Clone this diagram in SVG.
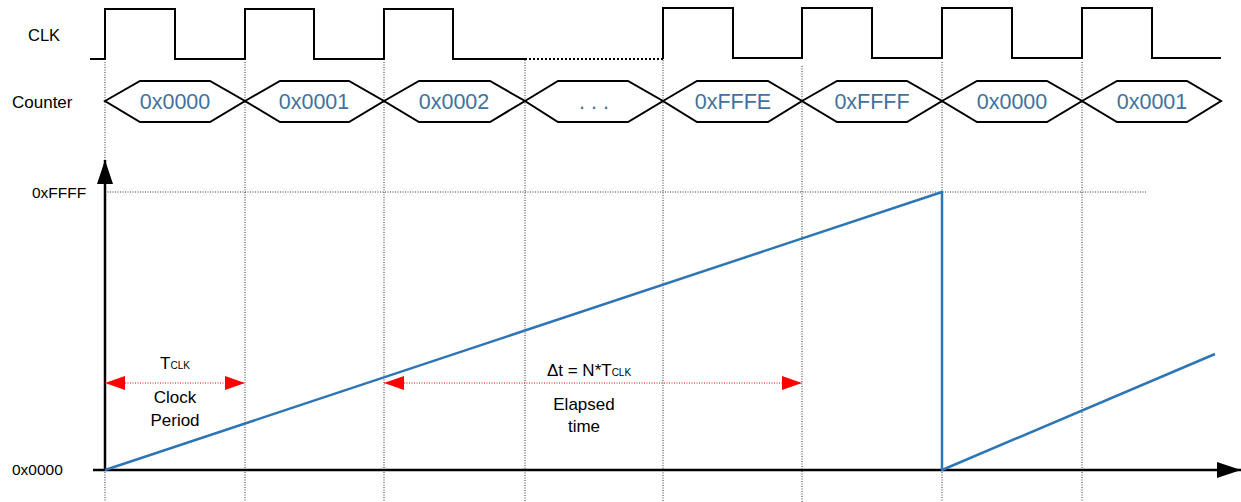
<svg xmlns="http://www.w3.org/2000/svg" width="1241" height="502" viewBox="0 0 1241 502">
<style>
.lbl{font-family:"Liberation Sans",Arial,sans-serif;fill:#000}
.hex{fill:#fff;stroke:#000;stroke-width:2}
.hv{font-family:"Liberation Sans",Arial,sans-serif;font-size:21.5px;fill:#41719C;text-anchor:middle}
.grid{stroke:#333;stroke-width:1;stroke-dasharray:1 1.5;fill:none}
.red{stroke:#FF0000;stroke-width:1;stroke-dasharray:1 1.5;fill:none}
.blue{stroke:#2E75B6;stroke-width:2.5;fill:none;stroke-linejoin:round}
</style>
<defs>
<marker id="ra" viewBox="0 0 20 14" refX="20" refY="7" markerWidth="20" markerHeight="14" markerUnits="userSpaceOnUse" orient="auto-start-reverse">
<path d="M0,0 L20,7 L0,14 Z" fill="#FF0000"/>
</marker>
<marker id="ka" viewBox="0 0 24 16" refX="24" refY="8" markerWidth="24" markerHeight="16" markerUnits="userSpaceOnUse" orient="auto">
<path d="M0,0 L24,8 L0,16 Z" fill="#000"/>
</marker>
</defs>

<g id="grid-lines">
<line class="grid" x1="105" y1="62" x2="105" y2="502"/>
<line class="grid" x1="245" y1="62" x2="245" y2="502"/>
<line class="grid" x1="384" y1="62" x2="384" y2="502"/>
<line class="grid" x1="525" y1="60" x2="525" y2="502"/>
<line class="grid" x1="663" y1="60" x2="663" y2="502"/>
<line class="grid" x1="802" y1="66" x2="802" y2="502"/>
<line class="grid" x1="942" y1="62" x2="942" y2="502"/>
<line class="grid" x1="1082" y1="62" x2="1082" y2="502"/>
<line class="grid" x1="105" y1="192" x2="1147" y2="192"/>
</g>

<g id="clk-label"><text class="lbl" x="28" y="41" font-size="16.5">CLK</text></g>
<g id="counter-label"><text class="lbl" x="12" y="108" font-size="17">Counter</text></g>

<g id="clk-signal">
<path d="M90,59 H105 V9 H175 V59 H245 V9 H314 V59 H384 V9 H453 V59 H525" fill="none" stroke="#000" stroke-width="2"/>
<line x1="525" y1="59" x2="663" y2="59" stroke="#000" stroke-width="2" stroke-dasharray="2 2"/>
<path d="M663,59 V8 H733 V58 H802 V8 H872 V58 H942 V8 H1012 V58 H1082 V8 H1152 V58 H1221" fill="none" stroke="#000" stroke-width="2"/>
</g>

<g id="counter-values">
<g id="c0"><polygon class="hex" points="105,101 140,81 210,81 245,101 210,122 140,122"/><text class="hv" x="175" y="109">0x0000</text></g>
<g id="c1"><polygon class="hex" points="245,101 280,81 349,81 384,101 349,122 280,122"/><text class="hv" x="314" y="109">0x0001</text></g>
<g id="c2"><polygon class="hex" points="384,101 419,81 490,81 525,101 490,122 419,122"/><text class="hv" x="454" y="109">0x0002</text></g>
<g id="c3"><polygon class="hex" points="525,101 558,81 628,81 663,101 628,122 558,122"/><text class="hv" x="594" y="109">. . .</text></g>
<g id="c4"><polygon class="hex" points="663,101 697,81 768,81 802,101 768,122 697,122"/><text class="hv" x="733" y="109">0xFFFE</text></g>
<g id="c5"><polygon class="hex" points="802,101 837,81 907,81 942,101 907,122 837,122"/><text class="hv" x="872" y="109">0xFFFF</text></g>
<g id="c6"><polygon class="hex" points="942,101 977,81 1047,81 1082,101 1047,122 977,122"/><text class="hv" x="1012" y="109">0x0000</text></g>
<g id="c7"><polygon class="hex" points="1082,101 1117,81 1187,81 1221,101 1187,122 1117,122"/><text class="hv" x="1152" y="109">0x0001</text></g>
</g>

<g id="axes">
<line x1="105" y1="470" x2="105" y2="160" stroke="#000" stroke-width="2.5" marker-end="url(#ka)"/>
<line x1="93" y1="470" x2="1241" y2="470" stroke="#000" stroke-width="2.5" marker-end="url(#ka)"/>
<text class="lbl" x="32" y="198" font-size="15.5">0xFFFF</text>
<text class="lbl" x="12" y="475" font-size="15.5">0x0000</text>
</g>

<g id="ramp">
<polyline class="blue" points="105,470 942,192 942,470 1215,354"/>
</g>

<g id="connectors">
<line class="red" x1="105" y1="383" x2="245" y2="383" marker-start="url(#ra)" marker-end="url(#ra)"/>
<line class="red" x1="384" y1="383" x2="802" y2="383" marker-start="url(#ra)" marker-end="url(#ra)"/>
</g>

<g id="clock-period-label">
<text class="lbl" x="175" y="369" font-size="17" text-anchor="middle">T<tspan font-size="10">CLK</tspan></text>
<text class="lbl" x="175" y="403" font-size="17" text-anchor="middle">Clock</text>
<text class="lbl" x="175" y="426" font-size="17" text-anchor="middle">Period</text>
</g>

<g id="elapsed-label">
<text class="lbl" x="589" y="376" font-size="17" text-anchor="middle">Δt = N*T<tspan font-size="10">CLK</tspan></text>
<text class="lbl" x="584" y="410" font-size="17" text-anchor="middle">Elapsed</text>
<text class="lbl" x="584" y="432" font-size="17" text-anchor="middle">time</text>
</g>
</svg>
